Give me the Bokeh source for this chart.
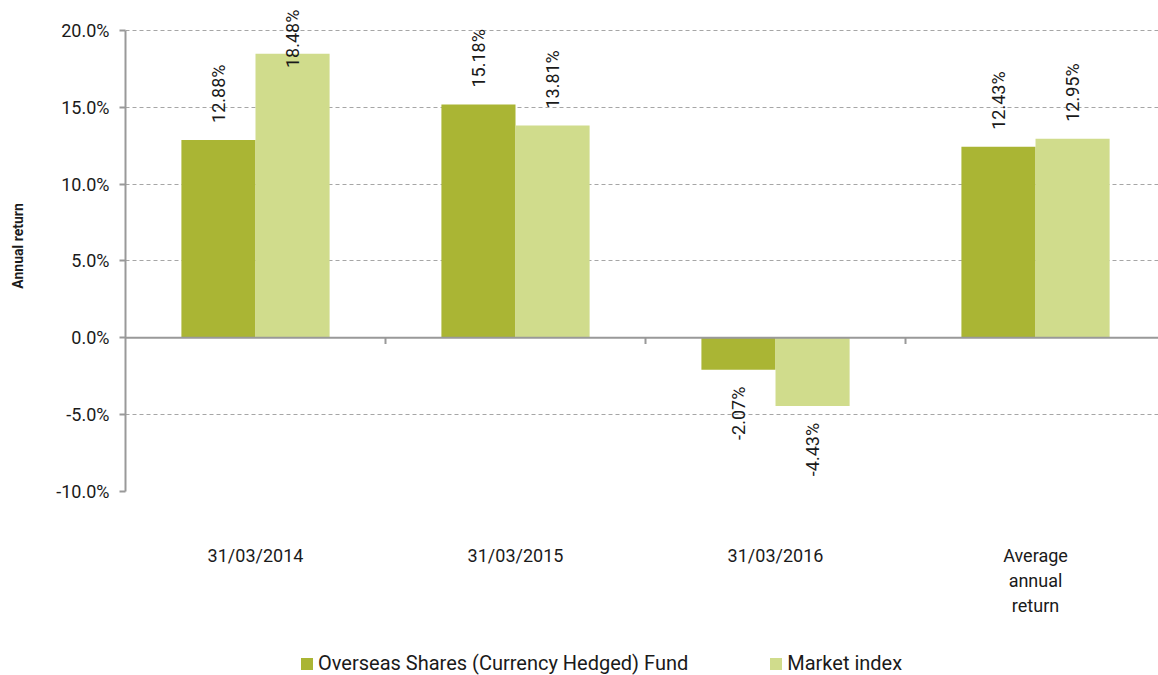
import math
from bokeh.plotting import figure
from bokeh.layouts import column
from bokeh.models import (ColumnDataSource, FixedTicker, Span, Legend, LegendItem)
from bokeh.core.properties import value
from bokeh.embed import file_html
from bokeh.resources import INLINE

categories = ["31/03/2014", "31/03/2015", "31/03/2016", "Average\nannual\nreturn"]
fund = [12.88, 15.18, -2.07, 12.43]
market = [18.48, 13.81, -4.43, 12.95]
y_ticks = [-10, -5, 0, 5, 10, 15, 20]
series_names = ["Overseas Shares (Currency Hedged) Fund", "Market index"]

FUND_COLOR = "#AAB534"
MARKET_COLOR = "#D0DC8C"
FONT = "Roboto"
TXT = "#1a1a1a"

idx = list(range(len(categories)))
bw = 0.285
fund_x = [i - bw / 2 for i in idx]
market_x = [i + bw / 2 for i in idx]

p = figure(width=1158, height=625, output_backend="svg", toolbar_location=None,
           x_range=(-0.5, 3.473), y_range=(-10, 21.95),
           min_border_left=125, min_border_right=0, min_border_top=0,
           min_border_bottom=134, outline_line_color=None)

# grid
p.xgrid.visible = False
p.ygrid.ticker = FixedTicker(ticks=y_ticks)
p.ygrid.grid_line_color = "#a6a6a6"
p.ygrid.grid_line_dash = "4 3"
p.ygrid.grid_line_width = 1

# y axis
ya = p.yaxis[0]
ya.ticker = FixedTicker(ticks=y_ticks)
ya.major_label_overrides = {t: f"{t:.1f}%" for t in y_ticks}
ya.bounds = (y_ticks[0], y_ticks[-1])
ya.axis_line_color = "#999999"
ya.axis_line_width = 2
ya.major_tick_line_color = "#999999"
ya.major_tick_line_width = 2
ya.major_tick_out = 6
ya.major_tick_in = 0
ya.minor_tick_line_color = None
ya.major_label_text_font = FONT
ya.major_label_text_font_size = "18px"
ya.major_label_text_color = TXT
ya.major_label_standoff = 10
ya.axis_label = "Annual return"
ya.axis_label_text_font = FONT
ya.axis_label_text_font_size = "14px"
ya.axis_label_text_font_style = "bold"
ya.axis_label_text_color = TXT
ya.axis_label_standoff = 27

# x axis
xa = p.xaxis[0]
xa.ticker = FixedTicker(ticks=idx)
xa.major_label_overrides = {i: c for i, c in zip(idx, categories)}
xa.axis_line_color = None
xa.major_tick_line_color = None
xa.major_tick_out = 0
xa.major_tick_in = 0
xa.minor_tick_line_color = None
xa.major_label_text_font = FONT
xa.major_label_text_font_size = "18px"
xa.major_label_text_color = TXT
xa.major_label_standoff = 53

# bars
src = ColumnDataSource(dict(fx=fund_x, mx=market_x, fund=fund, market=market))
r1 = p.vbar(x="fx", top="fund", bottom=0, width=bw, source=src,
            fill_color=FUND_COLOR, line_color=None)
r2 = p.vbar(x="mx", top="market", bottom=0, width=bw, source=src,
            fill_color=MARKET_COLOR, line_color=None)

# zero line and category separators
p.add_layout(Span(location=0, dimension="width", line_color="#999999", line_width=2))
bounds = [i + 0.5 for i in idx[:-1]]
p.segment(x0=bounds, x1=bounds, y0=[0] * len(bounds), y1=[-0.4] * len(bounds),
          line_color="#999999", line_width=2)

# data labels
cap = 16.45
for xs, vals in ((fund_x, fund), (market_x, market)):
    pos_x = [x for x, v in zip(xs, vals) if v >= 0]
    pos_y = [min(v, cap) for v in vals if v >= 0]
    pos_t = [f"{v:.2f}%" for v in vals if v >= 0]
    neg_x = [x for x, v in zip(xs, vals) if v < 0]
    neg_y = [v for v in vals if v < 0]
    neg_t = [f"{v:.2f}%" for v in vals if v < 0]
    p.text(x=pos_x, y=pos_y, text=pos_t, angle=math.pi / 2, text_align="left",
           text_baseline="middle", y_offset=-17, text_font=value(FONT),
           text_font_size="18px", text_color=TXT)
    p.text(x=neg_x, y=neg_y, text=neg_t, angle=math.pi / 2, text_align="right",
           text_baseline="middle", y_offset=17, text_font=value(FONT),
           text_font_size="18px", text_color=TXT)

# legend in its own strip below the chart (bars lie outside this strip's view)
lf = figure(width=1158, height=50, output_backend="svg", toolbar_location=None,
            min_border=0, outline_line_color=None, x_range=(100, 101), y_range=(100, 101))
lf.axis.visible = False
lf.grid.visible = False
l1 = lf.vbar(x="fx", top="fund", bottom=0, width=bw, source=src,
             fill_color=FUND_COLOR, line_color=None)
l2 = lf.vbar(x="mx", top="market", bottom=0, width=bw, source=src,
             fill_color=MARKET_COLOR, line_color=None)
legend = Legend(items=[LegendItem(label=series_names[0], renderers=[l1]),
                       LegendItem(label=series_names[1], renderers=[l2])],
                orientation="horizontal", location=(174, 0),
                glyph_width=15, glyph_height=15, label_standoff=4, spacing=80,
                label_height=15,
                label_text_font=FONT, label_text_font_size="20px",
                label_text_color=TXT, border_line_color=None,
                background_fill_alpha=0, padding=0, margin=0)
lf.add_layout(legend, "center")

open("out.html", "w").write(file_html(column(p, lf, spacing=0), INLINE))
